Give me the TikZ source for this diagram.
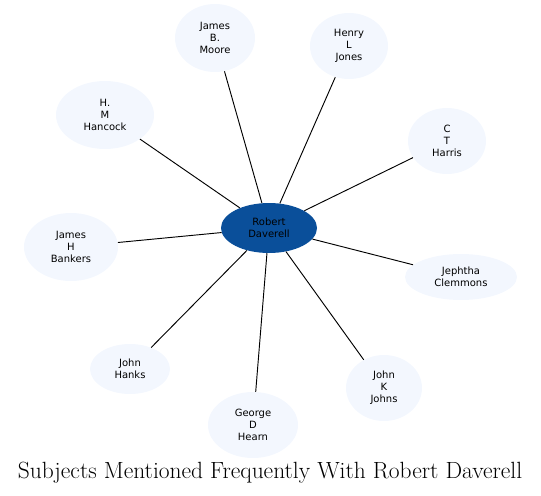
\documentclass[tikz,border=0pt]{standalone}
\usepackage{fontspec}
\newfontfamily\nodefont{DejaVu Sans}
\usetikzlibrary{shapes.geometric}
\definecolor{hubblue}{HTML}{0A4F9A}
\definecolor{paleblue}{HTML}{F3F7FE}
\tikzset{
  person/.style={ellipse, draw=none, fill=paleblue, align=center, inner sep=0pt, font=\nodefont\fontsize{7.5}{9}\selectfont},
  hub/.style={person, fill=hubblue},
  size/.style 2 args={minimum width=#1*0.75pt, minimum height=#2*0.75pt},
  link/.style={draw=black, line width=0.7pt}
}

\begin{document}
\begin{tikzpicture}[x=0.75pt, y=-0.75pt]
  \useasboundingbox (0,0) rectangle (541,495);
  \node[hub, size={96}{50}] (rd) at (269,228) {Robert\\Daverell};
  \node[person, size={80}{68}] (moore) at (215,38) {James\\B.\\Moore};
  \node[person, size={78}{66}] (jones) at (349,46) {Henry\\L\\Jones};
  \node[person, size={78}{66}] (harris) at (447,141) {C\\T\\Harris};
  \node[person, size={98}{68}] (hancock) at (105,115) {H.\\M\\Hancock};
  \node[person, size={94}{68}] (bankers) at (71,247) {James\\H\\Bankers};
  \node[person, size={112}{46}] (clemmons) at (461,277) {Jephtha\\Clemmons};
  \node[person, size={80}{50}] (hanks) at (130,369) {John\\Hanks};
  \node[person, size={90}{66}] (hearn) at (253,425) {George\\D\\Hearn};
  \node[person, size={76}{66}] (johns) at (384,388) {John\\K\\Johns};
  \foreach \n in {moore,jones,harris,hancock,bankers,clemmons,hanks,hearn,johns}
    \draw[link] (rd) -- (\n);
  \node[font=\fontsize{17.6}{20}\selectfont] (title) at (270,473) {Subjects Mentioned Frequently With Robert Daverell};
\end{tikzpicture}
\end{document}
